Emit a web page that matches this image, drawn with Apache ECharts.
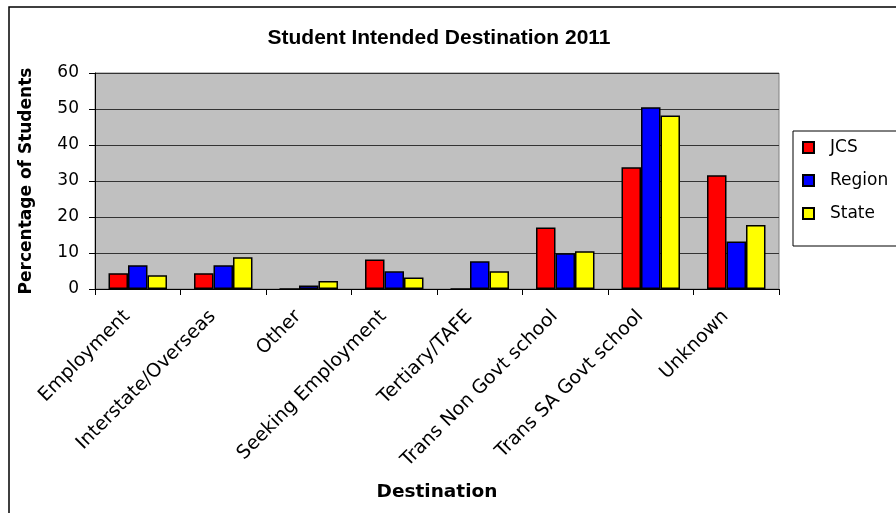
<!DOCTYPE html>
<html><head><meta charset="utf-8">
<script src="https://cdn.jsdelivr.net/npm/echarts@6/dist/echarts.min.js"></script>
<style>html,body{margin:0;padding:0;background:#fff}#c{width:896px;height:513px}</style>
</head><body><div id="c"></div>
<script>
var categories = ["Employment","Interstate/Overseas","Other","Seeking Employment","Tertiary/TAFE","Trans Non Govt school","Trans SA Govt school","Unknown"];
var jcs    = [4.4, 4.4, 0, 8.2, 0, 17.1, 33.8, 31.6];
var region = [6.6, 6.6, 1.0, 4.9, 7.7, 9.9, 50.5, 13.2];
var state  = [3.8, 8.8, 2.2, 3.2, 4.9, 10.5, 48.2, 17.8];
var yTicks = [0, 10, 20, 30, 40, 50, 60];

var chart = echarts.init(document.getElementById('c'));
var F = '"DejaVu Sans", sans-serif';
function s(name, data, color) {
  return {name: name, type: 'bar', data: data, barGap: '0%', barCategoryGap: '31.6%',
    itemStyle: {color: color, borderColor: '#000', borderWidth: 1.5}};
}
chart.setOption({
  animation: false,
  title: {text: 'Student Intended Destination 2011', left: 434, textAlign: 'center', top: 23,
    textStyle: {fontFamily: '"Liberation Sans", Arial, sans-serif', fontSize: 21, fontWeight: 'bold', color: '#000'}},
  graphic: [{type: 'rect', shape: {x: 9, y: 7, width: 900, height: 520},
    style: {fill: 'none', stroke: '#000', lineWidth: 1.5}, z: 100}],
  grid: {left: 95, right: 117, top: 73, bottom: 224, show: true, backgroundColor: '#C0C0C0', borderColor: '#808080', borderWidth: 1},
  legend: {orient: 'vertical', left: 793, top: 131, itemWidth: 11, itemHeight: 11, itemGap: 16,
    padding: [8, 12, 24, 9], borderColor: '#000', borderWidth: 1, backgroundColor: '#fff',
    textStyle: {fontFamily: F, fontSize: 17, color: '#000', padding: [0, 0, 0, 11]},
    icon: 'rect',
    data: ['JCS', 'Region', 'State']},
  xAxis: {type: 'category', data: categories, name: 'Destination', nameLocation: 'middle', nameGap: 194,
    nameTextStyle: {fontFamily: F, fontSize: 18.5, fontWeight: 'bold', color: '#000'},
    axisLine: {lineStyle: {color: '#000', width: 1}},
    axisTick: {show: true, length: 6, lineStyle: {color: '#000'}},
    axisLabel: {rotate: 45, interval: 0, fontFamily: F, fontSize: 19, color: '#000', margin: 14, padding: [0, 15, 0, 0]}},
  yAxis: {type: 'value', min: yTicks[0], max: yTicks[yTicks.length - 1], interval: 10,
    name: 'Percentage of Students', nameLocation: 'middle', nameGap: 60,
    nameTextStyle: {fontFamily: F, fontSize: 17, fontWeight: 'bold', color: '#000'},
    axisLine: {show: true, lineStyle: {color: '#000', width: 1}},
    axisTick: {show: true, length: 6, lineStyle: {color: '#000'}},
    axisLabel: {fontFamily: F, fontSize: 17, color: '#000', margin: 16},
    splitLine: {lineStyle: {color: '#333', width: 1}}},
  series: [s('JCS', jcs, '#FF0000'), s('Region', region, '#0000FF'), s('State', state, '#FFFF00')]
});
</script></body></html>
